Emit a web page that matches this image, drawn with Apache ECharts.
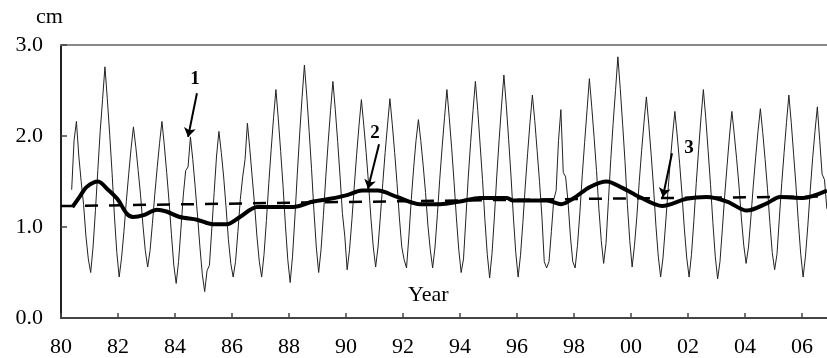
<!DOCTYPE html>
<html>
<head>
<meta charset="utf-8">
<script src="https://cdn.jsdelivr.net/npm/echarts@6/dist/echarts.min.js"></script>
<style>
  html, body { margin: 0; padding: 0; background: #fff; }
  #chart { width: 827px; height: 358px; }
</style>
</head>
<body>
<div id="chart"></div>
<script>
// monthly values, Jan..Dec, starting 1980 (null = no data yet)
var startYear = 1980;
var monthly = [
  [null, null, null, null, 1.41, 1.95, 2.16, 1.78, 1.50, 1.25, 0.90, 0.65], // 1980
  [0.50, 0.78, 1.18, 1.62, 2.05, 2.40, 2.76, 2.41, 2.02, 1.60, 1.12, 0.72], // 1981
  [0.45, 0.66, 0.95, 1.28, 1.58, 1.86, 2.10, 1.88, 1.62, 1.35, 1.02, 0.74], // 1982
  [0.56, 0.74, 1.04, 1.36, 1.65, 1.92, 2.16, 1.90, 1.60, 1.28, 0.92, 0.58], // 1983
  [0.38, 0.62, 0.98, 1.35, 1.62, 1.66, 1.99, 1.74, 1.44, 1.12, 0.78, 0.48], // 1984
  [0.29, 0.52, 0.58, 0.98, 1.38, 1.78, 2.05, 1.82, 1.55, 1.22, 0.86, 0.60], // 1985
  [0.45, 0.62, 0.95, 1.30, 1.55, 1.74, 2.14, 1.86, 1.55, 1.25, 0.90, 0.62], // 1986
  [0.45, 0.70, 1.07, 1.48, 1.85, 2.20, 2.51, 2.19, 1.83, 1.45, 1.02, 0.64], // 1987
  [0.39, 0.68, 1.11, 1.58, 2.02, 2.42, 2.78, 2.44, 2.05, 1.64, 1.18, 0.78], // 1988
  [0.50, 0.75, 1.13, 1.55, 1.93, 2.28, 2.60, 2.29, 1.94, 1.56, 1.15, 0.90], // 1989
  [0.53, 0.75, 1.08, 1.45, 1.80, 2.12, 2.40, 2.12, 1.82, 1.48, 1.10, 0.78], // 1990
  [0.56, 0.78, 1.12, 1.48, 1.82, 2.12, 2.41, 2.13, 1.82, 1.48, 1.10, 0.78], // 1991
  [0.64, 0.55, 0.90, 1.30, 1.65, 1.95, 2.18, 1.95, 1.68, 1.38, 1.02, 0.75], // 1992
  [0.55, 0.78, 1.14, 1.53, 1.88, 2.20, 2.51, 2.20, 1.87, 1.50, 1.10, 0.75], // 1993
  [0.50, 0.65, 1.10, 1.55, 1.93, 2.28, 2.60, 2.28, 1.90, 1.52, 1.08, 0.70], // 1994
  [0.44, 0.71, 1.11, 1.56, 1.96, 2.33, 2.67, 2.34, 1.96, 1.56, 1.11, 0.72], // 1995
  [0.45, 0.69, 1.05, 1.45, 1.81, 2.15, 2.45, 2.17, 1.84, 1.50, 1.12, 0.62], // 1996
  [0.55, 0.62, 0.95, 1.30, 1.40, 1.95, 2.29, 1.60, 1.55, 1.28, 0.90, 0.62], // 1997
  [0.55, 0.80, 1.16, 1.57, 1.93, 2.28, 2.63, 2.32, 1.98, 1.62, 1.20, 0.85], // 1998
  [0.60, 0.82, 1.28, 1.74, 2.14, 2.50, 2.87, 2.52, 2.13, 1.72, 1.25, 0.85], // 1999
  [0.56, 0.80, 1.12, 1.50, 1.84, 2.15, 2.43, 2.13, 1.80, 1.44, 1.02, 0.68], // 2000
  [0.45, 0.66, 1.00, 1.36, 1.70, 2.00, 2.27, 2.00, 1.70, 1.36, 0.98, 0.66], // 2001
  [0.45, 0.70, 1.07, 1.48, 1.85, 2.20, 2.51, 2.20, 1.84, 1.47, 1.05, 0.68], // 2002
  [0.43, 0.62, 0.98, 1.35, 1.68, 2.00, 2.27, 2.02, 1.75, 1.45, 1.10, 0.80], // 2003
  [0.60, 0.78, 1.10, 1.45, 1.76, 2.05, 2.30, 2.04, 1.74, 1.42, 1.05, 0.72], // 2004
  [0.53, 0.70, 1.10, 1.48, 1.82, 2.15, 2.45, 2.15, 1.80, 1.45, 1.05, 0.70], // 2005
  [0.45, 0.68, 1.02, 1.40, 1.75, 2.05, 2.32, 1.95, 1.58, 1.52, 1.20]        // 2006
];

// smoothed curve (line 2): [year, cm]
var smooth = [
  [1980.40, 1.22], [1980.67, 1.34], [1980.90, 1.44], [1981.30, 1.50], [1981.65, 1.41],
  [1982.00, 1.30], [1982.30, 1.15], [1982.53, 1.11], [1982.90, 1.13], [1983.37, 1.19],
  [1983.70, 1.17], [1984.17, 1.11], [1984.77, 1.08], [1985.33, 1.03], [1985.82, 1.03],
  [1986.28, 1.11], [1986.88, 1.22], [1988.14, 1.22], [1988.85, 1.28], [1989.44, 1.31],
  [1990.04, 1.35], [1990.56, 1.40], [1991.12, 1.40], [1991.79, 1.33], [1992.60, 1.25],
  [1993.30, 1.25], [1994.00, 1.28], [1994.70, 1.32], [1995.65, 1.32], [1995.86, 1.29],
  [1997.05, 1.29], [1997.55, 1.25], [1997.96, 1.31], [1998.56, 1.44], [1999.15, 1.50],
  [1999.70, 1.43], [2000.30, 1.33], [2001.10, 1.23], [2001.95, 1.31], [2002.66, 1.33],
  [2003.37, 1.28], [2004.07, 1.18], [2004.77, 1.26], [2005.23, 1.33], [2006.04, 1.32],
  [2006.88, 1.40]
];

// trend line (line 3)
var trend = [[1980.0, 1.23], [1990.0, 1.275], [2000.0, 1.315], [2006.88, 1.335]];

// annotation arrows: [label, labelX, labelY, fromX, fromY, toX, toY]
var notes = [
  ['1', 1984.70, 2.62, 1984.77, 2.47, 1984.46, 1.99],
  ['2', 1991.02, 2.03, 1991.16, 1.91, 1990.77, 1.42],
  ['3', 2002.04, 1.87, 2001.44, 1.81, 2001.12, 1.33]
];

var yTicks = [0, 1, 2, 3];

var raw = [];
monthly.forEach(function (row, i) {
  row.forEach(function (v, m) {
    if (v !== null) raw.push([startYear + i + (m + 0.5) / 12, v]);
  });
});

var serif = '"Liberation Serif", "DejaVu Serif", serif';

var chart = echarts.init(document.getElementById('chart'));

var option = {
  animation: false,
  grid: { left: 61, right: 0, top: 45, bottom: 40 },
  xAxis: [{
    type: 'value',
    min: 1980,
    max: 2006.88,
    interval: 2,
    splitLine: { show: false },
    axisLine: { lineStyle: { color: '#444', width: 2 } },
    axisTick: { inside: true, length: 5, lineStyle: { color: '#444', width: 1.5 } },
    axisLabel: {
      color: '#000',
      fontFamily: serif,
      fontSize: 22,
      margin: 18,
      showMaxLabel: false,
      formatter: function (v) {
        if (Math.abs(v - Math.round(v)) > 0.001) return '';
        var s = String(Math.round(v) % 100);
        return s.length < 2 ? '0' + s : s;
      }
    }
  }, {
    type: 'value',
    position: 'top',
    min: 1980,
    max: 2006.88,
    axisLine: { show: true, lineStyle: { color: '#888', width: 2 } },
    axisTick: { show: false },
    axisLabel: { show: false },
    splitLine: { show: false }
  }],
  yAxis: {
    type: 'value',
    min: yTicks[0],
    max: yTicks[yTicks.length - 1],
    interval: 1,
    splitLine: { show: false },
    axisLine: { show: true, lineStyle: { color: '#222', width: 2 } },
    axisTick: { show: true, inside: true, length: 6, lineStyle: { color: '#444', width: 1.5 } },
    axisLabel: {
      color: '#000',
      fontFamily: serif,
      fontSize: 22,
      margin: 18,
      formatter: function (v) { return v.toFixed(1); }
    }
  },
  graphic: [
    { type: 'text', left: 36, top: 6, style: { text: 'cm', font: '22px ' + serif, fill: '#000' } },
    { type: 'text', left: 408, top: 284, style: { text: 'Year', font: '22px ' + serif, fill: '#000' } }
  ],
  series: [
    {
      type: 'line',
      data: raw,
      showSymbol: false,
      lineStyle: { color: '#222', width: 1 },
      z: 2
    },
    {
      type: 'line',
      data: trend,
      showSymbol: false,
      lineStyle: { color: '#000', width: 2.5, type: [13, 11] },
      z: 3
    },
    {
      type: 'line',
      data: smooth,
      showSymbol: false,
      smooth: 0.3,
      lineStyle: { color: '#000', width: 4 },
      z: 4,
      markLine: {
        silent: true,
        symbol: ['none', 'arrow'],
        symbolSize: 9,
        lineStyle: { color: '#000', width: 2, type: 'solid' },
        label: { show: false },
        data: notes.map(function (n) {
          return [{ coord: [n[3], n[4]] }, { coord: [n[5], n[6]] }];
        })
      },
      markPoint: {
        silent: true,
        symbol: 'circle',
        symbolSize: 0,
        label: {
          show: true,
          color: '#000',
          fontFamily: serif,
          fontWeight: 'bold',
          fontSize: 19,
          formatter: function (p) { return p.name; }
        },
        data: notes.map(function (n) {
          return { name: n[0], coord: [n[1], n[2]] };
        })
      }
    }
  ]
};

chart.setOption(option);
window.addEventListener('resize', function () { chart.resize(); });
</script>
</body>
</html>
